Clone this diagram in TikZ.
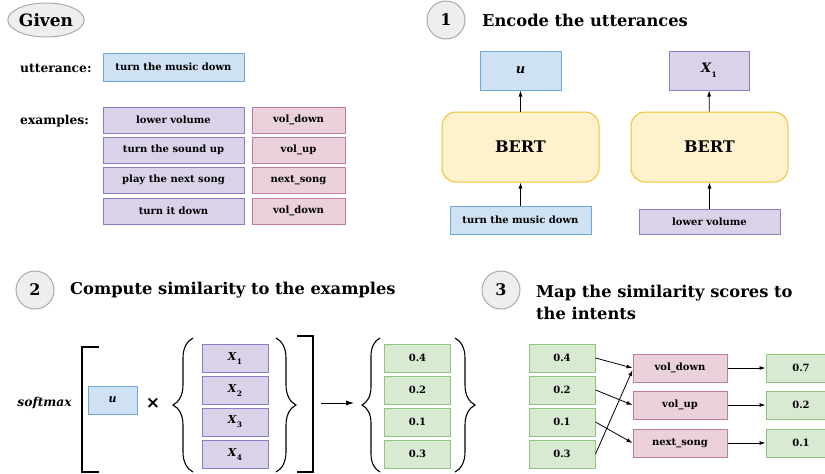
\documentclass[tikz,border=0pt]{standalone}
\usepackage{fontspec}
\setmainfont{DejaVu Serif}
\newfontfamily\symfont{DejaVu Sans}
\usetikzlibrary{positioning, arrows.meta, shapes, decorations.pathreplacing}

\definecolor{bluefill}{HTML}{CFE2F3}
\definecolor{blueline}{HTML}{6FA8DC}
\definecolor{purplefill}{HTML}{D9D2E9}
\definecolor{purpleline}{HTML}{8E7CC3}
\definecolor{pinkfill}{HTML}{EAD1DC}
\definecolor{pinkline}{HTML}{C27BA0}
\definecolor{greenfill}{HTML}{D9EAD3}
\definecolor{greenline}{HTML}{93C47D}
\definecolor{bertfill}{HTML}{FFF2CC}
\definecolor{bertline}{HTML}{F1C232}
\definecolor{stepfill}{HTML}{EEEEEE}
\definecolor{stepline}{HTML}{AAAAAA}

\newcommand{\xvec}[1]{\textit{X}\raisebox{-.7ex}{\fontsize{7.5}{8}\selectfont #1}}

\begin{document}
\begin{tikzpicture}[
    % GLOBAL CFG
    x=1pt, y=-1pt,
    font=\bfseries\fontsize{10}{12}\selectfont,
    >={Latex[length=6pt,width=4pt]},
    % Styles
    box/.style={% Base for all boxes
        rectangle,
        draw,
        line width=1pt,
        inner sep=1pt,
        },
    bluebox/.style={% For the utterance
        box, fill=bluefill, draw=blueline,
        },
    purplebox/.style={% For the examples
        box, fill=purplefill, draw=purpleline,
        },
    pinkbox/.style={% For the intents
        box, fill=pinkfill, draw=pinkline,
        },
    greenbox/.style={% For the scores
        box, fill=greenfill, draw=greenline,
        minimum width=66pt, minimum height=28pt,
        },
    bertbox/.style={% For the encoder
        box, fill=bertfill, draw=bertline,
        rounded corners=14pt,
        minimum width=157pt, minimum height=70pt,
        font=\bfseries\fontsize{16}{19}\selectfont,
        },
    stepnum/.style={% For the numbered circles
        circle, draw=stepline, fill=stepfill,
        line width=1pt,
        minimum size=38pt, inner sep=0pt,
        font=\bfseries\fontsize{16}{19}\selectfont,
        },
    title/.style={% For section titles
        anchor=west, inner sep=0pt,
        font=\bfseries\fontsize{16.3}{22}\selectfont,
        },
    mylabel/.style={% For row labels
        anchor=west, inner sep=0pt,
        font=\bfseries\fontsize{12.3}{14}\selectfont,
        },
    bracket/.style={% For brackets and braces
        line width=1.1pt,
        },
    ArrowC1/.style={% Plain arrows
        ->, line width=.8pt,
        },
    ]

    \useasboundingbox (0,0) rectangle (825,474);

    % Given
    \node [ellipse, draw=stepline, fill=stepfill, line width=1pt, minimum width=74pt, minimum height=34pt, inner sep=0pt,
        font=\bfseries\fontsize{17}{20}\selectfont] (given) at (46,20) {Given};

    \node [mylabel] (utt_lbl) at (20,68) {utterance:};
    \node [bluebox, minimum width=141pt, minimum height=28pt] (utt) at (173.5,67) {turn the music down};

    \node [mylabel] (ex_lbl) at (20,121) {examples:};
    \node [purplebox, minimum width=141pt, minimum height=26pt] (ex_1) at (173.5,120) {lower volume};
    \node [purplebox, minimum width=141pt, minimum height=26pt] (ex_2) at (173.5,150) {turn the sound up};
    \node [purplebox, minimum width=141pt, minimum height=26pt] (ex_3) at (173.5,180) {play the next song};
    \node [purplebox, minimum width=141pt, minimum height=26pt] (ex_4) at (173.5,211) {turn it down};
    \node [pinkbox, minimum width=93pt, minimum height=26pt] (int_1) at (298.5,120) {vol\_down};
    \node [pinkbox, minimum width=93pt, minimum height=26pt] (int_2) at (298.5,150) {vol\_up};
    \node [pinkbox, minimum width=93pt, minimum height=26pt] (int_3) at (298.5,180) {next\_song};
    \node [pinkbox, minimum width=93pt, minimum height=26pt] (int_4) at (298.5,211) {vol\_down};

    % Step 1: encode
    \node [stepnum] (step1) at (446,20) {1};
    \node [title] (title1) at (482,20) {Encode the utterances};

    \node [bluebox, minimum width=141pt, minimum height=28pt] (in_u) at (520.5,220) {turn the music down};
    \node [bertbox] (bert_u) at (520.5,147) {BERT};
    \node [bluebox, minimum width=81pt, minimum height=39pt, font=\bfseries\fontsize{13}{15}\selectfont] (vec_u) at (520.5,70.5) {\textit{u}};

    \node [purplebox, minimum width=141pt, minimum height=25pt] (in_x) at (709.5,221.5) {lower volume};
    \node [bertbox] (bert_x) at (709.5,147) {BERT};
    \node [purplebox, minimum width=80pt, minimum height=39pt, font=\bfseries\fontsize{13}{15}\selectfont] (vec_x) at (709,70.5) {\xvec{1}};

    \draw [ArrowC1] (in_u) -- (bert_u);
    \draw [ArrowC1] (bert_u) -- (vec_u);
    \draw [ArrowC1] (in_x) -- (bert_x);
    \draw [ArrowC1] (bert_x) -- (vec_x);

    % Step 2: similarity
    \node [stepnum] (step2) at (35,290) {2};
    \node [title] (title2) at (70,290) {Compute similarity to the examples};

    \node [anchor=east, inner sep=0pt, font=\bfseries\itshape\fontsize{12.3}{14}\selectfont] (softmax) at (72,403) {softmax};
    \node [bluebox, minimum width=49pt, minimum height=28pt, font=\bfseries\fontsize{11}{13}\selectfont] (sim_u) at (112.5,400) {\textit{u}};
    \node [inner sep=0pt, font=\symfont\bfseries\fontsize{17}{18}\selectfont] (times) at (153,403) {×};

    \node [purplebox, minimum width=66pt, minimum height=28pt, font=\bfseries\fontsize{11}{13}\selectfont] (sim_x1) at (235,358) {\xvec{1}};
    \node [purplebox, minimum width=66pt, minimum height=28pt, font=\bfseries\fontsize{11}{13}\selectfont] (sim_x2) at (235,390) {\xvec{2}};
    \node [purplebox, minimum width=66pt, minimum height=28pt, font=\bfseries\fontsize{11}{13}\selectfont] (sim_x3) at (235,422) {\xvec{3}};
    \node [purplebox, minimum width=66pt, minimum height=28pt, font=\bfseries\fontsize{11}{13}\selectfont] (sim_x4) at (235,454) {\xvec{4}};

    \node [greenbox] (sc_1) at (417.5,358) {0.4};
    \node [greenbox] (sc_2) at (417.5,390) {0.2};
    \node [greenbox] (sc_3) at (417.5,422) {0.1};
    \node [greenbox] (sc_4) at (417.5,454) {0.3};

    % Brackets and braces
    \draw [bracket] (99,347) -- (82,347) -- (82,472) -- (99,472);
    \draw [bracket] (297,336) -- (313,336) -- (313,472) -- (297,472);
    \draw [bracket, decorate, decoration={brace, amplitude=20pt}] (193,472) -- (193,338);
    \draw [bracket, decorate, decoration={brace, amplitude=20pt}] (276,338) -- (276,472);
    \draw [bracket, decorate, decoration={brace, amplitude=18pt}] (380,472) -- (380,338);
    \draw [bracket, decorate, decoration={brace, amplitude=20pt}] (455,338) -- (455,472);

    \coordinate (res_start) at (321,403);
    \coordinate (res_end) at (354,403);
    \draw [ArrowC1, >={Latex[length=8pt,width=5pt]}] (res_start) -- (res_end);

    % Step 3: map to intents
    \node [stepnum] (step3) at (501,290) {3};
    \node [title, align=left] (title3) at (536,302) {Map the similarity scores to\\the intents};

    \node [greenbox] (in_1) at (562,358) {0.4};
    \node [greenbox] (in_2) at (562,390) {0.2};
    \node [greenbox] (in_3) at (562,422) {0.1};
    \node [greenbox] (in_4) at (562,454) {0.3};

    \node [pinkbox, minimum width=94pt, minimum height=28pt] (map_1) at (680,368) {vol\_down};
    \node [pinkbox, minimum width=94pt, minimum height=28pt] (map_2) at (680,405) {vol\_up};
    \node [pinkbox, minimum width=94pt, minimum height=28pt] (map_3) at (680,443) {next\_song};

    \node [greenbox, minimum width=70pt] (out_1) at (801,368) {0.7};
    \node [greenbox, minimum width=70pt] (out_2) at (801,405) {0.2};
    \node [greenbox, minimum width=70pt] (out_3) at (801,443) {0.1};

    \draw [ArrowC1] (in_1.east) -- (map_1.west);
    \draw [ArrowC1] (in_2.east) -- (map_2.west);
    \draw [ArrowC1] (in_3.east) -- (map_3.west);
    \draw [ArrowC1] (in_4.east) -- ([yshift=-2pt]map_1.west);

    \draw [ArrowC1] (map_1) -- (out_1);
    \draw [ArrowC1] (map_2) -- (out_2);
    \draw [ArrowC1] (map_3) -- (out_3);

\end{tikzpicture}
\end{document}
